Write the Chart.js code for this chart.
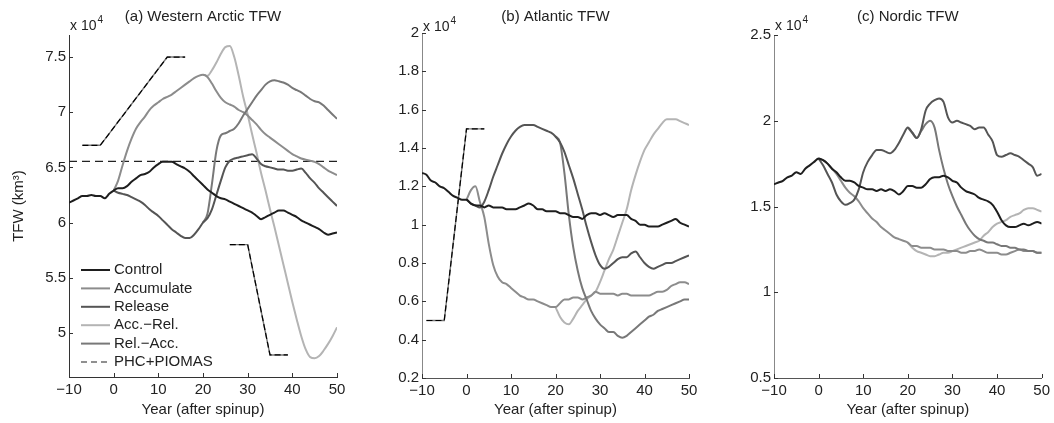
<!DOCTYPE html>
<html>
<head>
<meta charset="utf-8">
<script src="https://cdn.jsdelivr.net/npm/chart.js@4.4.0/dist/chart.umd.min.js"></script>
<style>
  html, body { margin: 0; padding: 0; background: #fff; }
  #wrap { position: relative; width: 1054px; height: 423px; }
  canvas { position: absolute; top: 0; }
</style>
</head>
<body>
<div id="wrap">
  <canvas id="panelA" width="352" height="423" style="left:0px"></canvas>
  <canvas id="panelB" width="350" height="423" style="left:352px"></canvas>
  <canvas id="panelC" width="352" height="423" style="left:702px"></canvas>
</div>
<script>
// ---- x grids (years after spinup) ----
const controlYears = [-10,-9,-8,-7,-6,-5,-4,-3,-2,-1,0,1,2,3,4,5,6,7,8,9,10,11,12,13,14,15,16,17,18,19,20,
  21,22,23,24,25,26,27,28,29,30,31,32,33,34,35,36,37,38,39,40,41,42,43,44,45,46,47,48,49,50];
const runYears = [0,1,2,3,4,5,6,7,8,9,10,11,12,13,14,15,16,17,18,19,20,
  21,22,23,24,25,26,27,28,29,30,31,32,33,34,35,36,37,38,39,40,41,42,43,44,45,46,47,48,49,50];
const branchYears = [20,21,22,23,24,25,26,27,28,29,30,31,32,33,34,35,36,37,38,39,40,41,42,43,44,45,46,47,48,49,50];
const xTicks = [-10, 0, 10, 20, 30, 40, 50];

// ---- (a) Western Arctic, x 10^4 km3 ----
const westControl = [6.18,6.20,6.22,6.24,6.24,6.25,6.24,6.24,6.22,6.26,
  6.29,6.31,6.31,6.33,6.37,6.40,6.43,6.44,6.46,6.50,
  6.53,6.55,6.55,6.55,6.53,6.51,6.49,6.46,6.42,6.38,
  6.34,6.30,6.27,6.24,6.22,6.21,6.19,6.17,6.15,6.13,
  6.11,6.09,6.06,6.03,6.05,6.07,6.09,6.11,6.11,6.09,
  6.07,6.05,6.02,6.00,5.98,5.96,5.94,5.91,5.89,5.90,5.91];
const westAccumulate = [6.29,6.38,6.52,6.65,6.76,6.85,6.91,6.96,7.02,7.06,
  7.09,7.12,7.14,7.16,7.19,7.22,7.25,7.28,7.31,7.33,
  7.34,7.32,7.26,7.19,7.13,7.09,7.07,7.05,7.02,7.00,
  6.97,6.93,6.89,6.84,6.80,6.77,6.74,6.71,6.68,6.65,
  6.62,6.60,6.58,6.57,6.56,6.55,6.53,6.50,6.47,6.45,6.43];
const westRelease = [6.29,6.27,6.26,6.25,6.23,6.21,6.19,6.16,6.12,6.09,
  6.06,6.02,5.98,5.94,5.91,5.88,5.86,5.86,5.89,5.94,
  6.00,6.04,6.12,6.25,6.38,6.50,6.56,6.58,6.59,6.60,
  6.61,6.62,6.58,6.53,6.51,6.50,6.49,6.48,6.48,6.47,
  6.47,6.48,6.49,6.45,6.40,6.36,6.31,6.27,6.23,6.19,6.15];
const westAccRel = [7.34,7.33,7.38,7.45,7.53,7.59,7.60,7.50,7.33,7.14,
  6.98,6.80,6.63,6.45,6.29,6.12,5.96,5.79,5.62,5.45,
  5.28,5.12,4.97,4.85,4.78,4.77,4.79,4.84,4.90,4.97,5.05];
const westRelAcc = [6.00,6.08,6.35,6.65,6.79,6.81,6.83,6.85,6.90,6.97,
  7.03,7.09,7.15,7.20,7.25,7.28,7.29,7.28,7.27,7.25,
  7.22,7.20,7.18,7.15,7.12,7.10,7.09,7.06,7.02,6.98,6.94];
const obsYears = [-10, 50];
const westObs = [6.555, 6.555];
const westRampYears1 = [-7, -3, 12, 16];
const westRamp1 = [6.7, 6.7, 7.5, 7.5];
const westRampYears2 = [26, 30, 35, 39];
const westRamp2 = [5.8, 5.8, 4.8, 4.8];
const westTicks = [5, 5.5, 6, 6.5, 7, 7.5];

// ---- (b) Atlantic ----
const atlControl = [1.27,1.26,1.23,1.22,1.20,1.19,1.17,1.15,1.14,1.13,
  1.13,1.11,1.10,1.10,1.09,1.10,1.09,1.09,1.09,1.08,
  1.08,1.08,1.09,1.10,1.11,1.10,1.08,1.08,1.07,1.07,
  1.07,1.06,1.06,1.05,1.04,1.04,1.03,1.05,1.06,1.06,
  1.05,1.06,1.05,1.04,1.05,1.05,1.05,1.03,1.02,1.00,
  1.00,0.99,0.99,0.99,1.00,1.01,1.02,1.03,1.01,1.00,0.99];
const atlAccumulate = [1.13,1.18,1.20,1.12,1.04,0.90,0.79,0.73,0.70,0.69,
  0.67,0.65,0.63,0.62,0.61,0.61,0.60,0.59,0.58,0.57,
  0.57,0.59,0.61,0.61,0.62,0.62,0.61,0.62,0.63,0.65,
  0.64,0.64,0.64,0.64,0.63,0.64,0.64,0.63,0.63,0.63,
  0.63,0.63,0.64,0.65,0.65,0.66,0.68,0.69,0.70,0.70,0.69];
const atlRelease = [1.13,1.11,1.10,1.09,1.12,1.18,1.25,1.31,1.37,1.42,
  1.46,1.49,1.51,1.52,1.52,1.52,1.51,1.50,1.49,1.48,
  1.46,1.43,1.38,1.31,1.24,1.16,1.08,0.99,0.91,0.84,
  0.79,0.77,0.78,0.80,0.82,0.83,0.83,0.85,0.86,0.83,
  0.80,0.78,0.77,0.78,0.79,0.80,0.80,0.81,0.82,0.83,0.84];
const atlAccRel = [0.57,0.52,0.49,0.48,0.51,0.55,0.58,0.61,0.63,0.65,
  0.70,0.76,0.82,0.87,0.94,1.01,1.08,1.18,1.26,1.33,
  1.39,1.43,1.47,1.50,1.53,1.55,1.55,1.55,1.54,1.53,1.52];
const atlRelAcc = [1.46,1.43,1.27,1.05,0.88,0.76,0.67,0.61,0.55,0.51,
  0.48,0.46,0.44,0.44,0.42,0.41,0.42,0.44,0.46,0.48,
  0.50,0.52,0.53,0.55,0.56,0.57,0.58,0.59,0.60,0.61,0.61];
const atlRampYears = [-9, -5, 0, 4];
const atlRamp = [0.5, 0.5, 1.5, 1.5];
const atlTicks = [0.2, 0.4, 0.6, 0.8, 1, 1.2, 1.4, 1.6, 1.8, 2];

// ---- (c) Nordic ----
const nordControl = [1.63,1.64,1.65,1.67,1.68,1.70,1.69,1.72,1.74,1.76,
  1.78,1.77,1.75,1.72,1.70,1.67,1.65,1.65,1.64,1.62,
  1.61,1.60,1.60,1.59,1.60,1.59,1.60,1.59,1.57,1.59,
  1.62,1.62,1.61,1.61,1.63,1.66,1.67,1.67,1.68,1.67,
  1.65,1.64,1.61,1.59,1.58,1.57,1.55,1.54,1.53,1.51,
  1.47,1.42,1.39,1.38,1.38,1.39,1.40,1.39,1.40,1.41,1.40];
const nordAccumulate = [1.78,1.77,1.75,1.72,1.69,1.65,1.61,1.58,1.56,1.53,
  1.49,1.46,1.43,1.41,1.38,1.36,1.34,1.32,1.31,1.30,
  1.29,1.27,1.27,1.26,1.26,1.26,1.25,1.25,1.25,1.24,
  1.24,1.24,1.23,1.23,1.24,1.24,1.25,1.24,1.23,1.23,
  1.23,1.22,1.22,1.23,1.24,1.25,1.24,1.24,1.24,1.23,1.23];
const nordRelease = [1.78,1.74,1.69,1.64,1.57,1.53,1.51,1.52,1.54,1.60,
  1.70,1.76,1.80,1.83,1.83,1.82,1.81,1.83,1.87,1.92,
  1.96,1.93,1.90,1.95,2.06,2.10,2.12,2.13,2.11,2.02,
  1.99,2.00,1.99,1.98,1.97,1.95,1.96,1.96,1.92,1.88,
  1.80,1.79,1.80,1.81,1.80,1.79,1.77,1.75,1.73,1.68,1.69];
const nordAccRel = [1.29,1.26,1.24,1.23,1.22,1.21,1.21,1.22,1.23,1.23,
  1.24,1.25,1.26,1.27,1.28,1.29,1.30,1.33,1.35,1.38,
  1.40,1.41,1.42,1.44,1.45,1.46,1.48,1.49,1.49,1.48,1.47];
const nordRelAcc = [1.96,1.93,1.90,1.94,1.98,2.00,1.96,1.83,1.72,1.63,
  1.56,1.50,1.45,1.40,1.36,1.33,1.31,1.30,1.29,1.29,
  1.28,1.27,1.27,1.26,1.26,1.25,1.25,1.24,1.24,1.23,1.23];
const nordTicks = [0.5, 1, 1.5, 2, 2.5];

const seriesNames = ['Control', 'Accumulate', 'Release', 'Acc.\u2212Rel.', 'Rel.\u2212Acc.', 'PHC+PIOMAS'];
const seriesColors = ['#1e1e1e', '#8c8c8c', '#555555', '#b4b4b4', '#787878', '#222222'];

const FONT = '"Liberation Sans", Arial, Helvetica, sans-serif';
Chart.defaults.font.family = FONT;
Chart.defaults.font.size = 15;
Chart.defaults.color = '#222';

function line(label, years, values, color, extra) {
  return Object.assign({
    label: label,
    data: years.map((x, i) => ({x: x, y: values[i]})),
    borderColor: color,
    borderWidth: 2,
    pointRadius: 0,
    fill: false,
    cubicInterpolationMode: 'monotone'
  }, extra || {});
}

function ramp(years, values) {
  return [
    line('', years, values, '#000', {borderDash: [6, 3], borderWidth: 1.2, cubicInterpolationMode: 'default', tension: 0}),
    line('', years, values, '#777', {borderWidth: 1.4, cubicInterpolationMode: 'default', tension: 0})
  ];
}

function runs(ctrl, acc, rel, accRel, relAcc) {
  return [
    line(seriesNames[0], controlYears, ctrl, seriesColors[0]),
    line(seriesNames[2], runYears, rel, seriesColors[2]),
    line(seriesNames[4], branchYears, relAcc, seriesColors[4]),
    line(seriesNames[1], runYears, acc, seriesColors[1]),
    line(seriesNames[3], branchYears, accRel, seriesColors[3])
  ];
}

// inward ticks, "x 10^4" multiplier and the in-axes legend
const panelDecor = {
  id: 'panelDecor',
  afterDraw(chart, args, opts) {
    const {ctx, chartArea: area, scales: {x, y}} = chart;
    ctx.save();
    ctx.strokeStyle = '#333';
    ctx.lineWidth = 1;
    ctx.beginPath();
    x.ticks.forEach(t => {
      const px = Math.round(x.getPixelForValue(t.value)) + 0.5;
      ctx.moveTo(px, area.bottom);
      ctx.lineTo(px, area.bottom - 4);
    });
    y.ticks.forEach(t => {
      const py = Math.round(y.getPixelForValue(t.value)) + 0.5;
      ctx.moveTo(area.left, py);
      ctx.lineTo(area.left + 4, py);
    });
    ctx.stroke();

    ctx.fillStyle = '#222';
    ctx.textAlign = 'left';
    ctx.textBaseline = 'alphabetic';
    ctx.font = '14px ' + FONT;
    ctx.fillText('x 10', area.left + 1, opts.expBaseline);
    const w = ctx.measureText('x 10').width;
    ctx.font = '10px ' + FONT;
    ctx.fillText('4', area.left + 2 + w, opts.expBaseline - 7);

    if (opts.legend) {
      const lg = opts.legend;
      ctx.font = '15px ' + FONT;
      ctx.textBaseline = 'middle';
      seriesNames.forEach((name, i) => {
        const yy = lg.y + i * lg.step;
        ctx.beginPath();
        ctx.strokeStyle = seriesColors[i];
        ctx.lineWidth = i === 5 ? 1.2 : 2;
        ctx.setLineDash(i === 5 ? [6, 4] : []);
        ctx.moveTo(lg.x, yy);
        ctx.lineTo(lg.x + 29, yy);
        ctx.stroke();
        ctx.setLineDash([]);
        ctx.fillStyle = '#222';
        ctx.fillText(name, lg.x + 33, yy);
      });
    }
    ctx.restore();
  }
};

function makePanel(id, o) {
  return new Chart(document.getElementById(id), {
    type: 'line',
    data: {datasets: o.datasets},
    options: {
      responsive: false,
      animation: false,
      events: [],
      layout: {padding: {left: 0, right: o.padRight, top: 0, bottom: 0}},
      plugins: {
        legend: {display: false},
        tooltip: {enabled: false},
        title: {
          display: true, text: o.title, fullSize: false, color: '#222',
          font: {size: 15, weight: 'normal'},
          padding: {top: 8, bottom: o.top - 26}
        },
        panelDecor: {expBaseline: o.expBaseline, legend: o.legend || null}
      },
      scales: {
        x: {
          type: 'linear', min: -10, max: 50,
          afterBuildTicks: s => { s.ticks = xTicks.map(v => ({value: v})); },
          afterFit: s => { s.height = o.bottomH; },
          grid: {display: false, drawTicks: false},
          border: {display: true, color: o.xAxisColor, width: 1},
          ticks: {padding: 4, autoSkip: false, maxRotation: 0,
            callback: v => v < 0 ? '\u2212' + Math.abs(v) : String(v)},
          title: {display: true, text: 'Year (after spinup)', padding: {top: 0, bottom: 4}}
        },
        y: {
          type: 'linear', min: o.yMin, max: o.yMax,
          afterBuildTicks: s => { s.ticks = o.yTicks.map(v => ({value: v})); },
          afterFit: s => { s.width = o.leftW; },
          grid: {display: false, drawTicks: false},
          border: {display: true, color: o.yAxisColor, width: 1},
          ticks: {padding: 3, autoSkip: false, callback: v => String(v)},
          title: {display: !!o.yTitle, text: o.yTitle || '', padding: {top: 10, bottom: 0}}
        }
      }
    },
    plugins: [panelDecor]
  });
}

makePanel('panelA', {
  title: '(a) Western Arctic TFW',
  datasets: runs(westControl, westAccumulate, westRelease, westAccRel, westRelAcc).concat(
    [line(seriesNames[5], obsYears, westObs, seriesColors[5],
      {borderDash: [8, 5], borderWidth: 1.2, cubicInterpolationMode: 'default', tension: 0})],
    ramp(westRampYears1, westRamp1), ramp(westRampYears2, westRamp2)),
  yMin: 4.6, yMax: 7.7, yTicks: westTicks, yTitle: 'TFW (km\u00B3)',
  leftW: 69, padRight: 15, top: 35, bottomH: 46, expBaseline: 30,
  xAxisColor: '#333', yAxisColor: '#333',
  legend: {x: 81, y: 270, step: 18.4}
});

makePanel('panelB', {
  title: '(b) Atlantic TFW',
  datasets: runs(atlControl, atlAccumulate, atlRelease, atlAccRel, atlRelAcc).concat(ramp(atlRampYears, atlRamp)),
  yMin: 0.2, yMax: 2, yTicks: atlTicks,
  leftW: 70, padRight: 13, top: 33, bottomH: 45, expBaseline: 31,
  xAxisColor: '#555', yAxisColor: '#888'
});

makePanel('panelC', {
  title: '(c) Nordic TFW',
  datasets: runs(nordControl, nordAccumulate, nordRelease, nordAccRel, nordRelAcc),
  yMin: 0.5, yMax: 2.5, yTicks: nordTicks,
  leftW: 72, padRight: 12, top: 35, bottomH: 45, expBaseline: 30,
  xAxisColor: '#555', yAxisColor: '#888'
});
</script>
</body>
</html>
